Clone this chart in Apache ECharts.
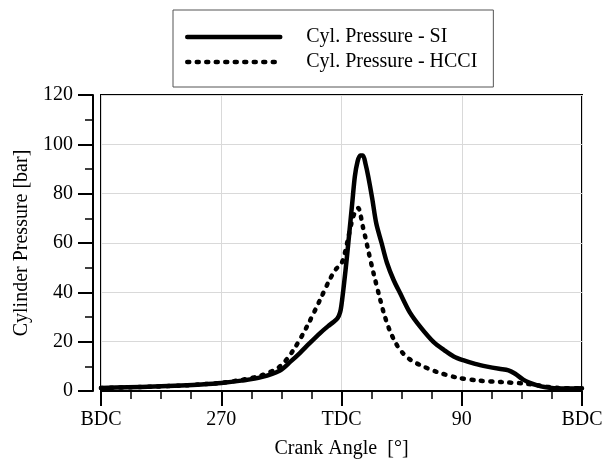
<!DOCTYPE html>
<html>
<head>
<meta charset="utf-8">
<script src="https://cdn.jsdelivr.net/npm/echarts@6/dist/echarts.min.js"></script>
<style>html,body{margin:0;padding:0;background:#fff}#c{width:605px;height:461px}</style>
</head>
<body>
<div id="c"></div>
<script>
// Crank angle (deg, 180 = BDC, 360 = TDC, 540 = BDC)
const siAngles = [180,200,220,240,255,270,285,300,314,322,329,336,344,350,354,357,359,360,362,364,366,368,370,372,374,376,378,380,383,386,390,394,399,404,411,419,429,437,444,451,460,469,478,485,490,496,501,506,512,519,530,540];
const siPressure = [1.2,1.5,1.8,2.2,2.6,3.2,4.2,5.6,8.3,12,15.5,19.3,23.5,26.3,28,29.5,32,35,44,54,65,76,87,93,95.5,95.5,92,87,78,68,60,52,45,39.5,32,26,19.8,16.5,14,12.5,11,9.9,9.0,8.4,7,4.6,3.3,2.4,1.6,1.1,1.0,1.1];
const hcciAngles = [180,200,220,240,255,270,285,300,314,324,334,344,351,356,359,361,363,365,367,369,371,372.6,374,376,378,380,384,389,392,396,401,406,412,419,431,446,463,480,495,506,515,525,540];
const hcciPressure = [1.2,1.5,1.8,2.2,2.7,3.3,4.5,6.3,10,16.6,26,37,45,49.5,51,53,57,62,67,71,73.5,74.2,72,66.6,62,57,47.7,37,31,24.7,19,15.3,12.5,10.5,7.8,5.5,4.2,3.6,3.1,2.4,1.6,1.2,1.1];
const xTickValues = [180,270,360,450,540];
const xTickLabels = ['BDC','270','TDC','90','BDC'];
const seriesNames = ['Cyl. Pressure - SI','Cyl. Pressure - HCCI'];

const FONT = 'Liberation Serif';
const chart = echarts.init(document.getElementById('c'), null, {renderer:'canvas'});
const pair = (xs, ys) => xs.map((x, i) => [x, ys[i]]);
chart.setOption({
  animation: false,
  backgroundColor: '#fff',
  textStyle: {fontFamily: FONT, color: '#000'},
  legend: {
    orient: 'vertical',
    left: 173, top: 10,
    padding: [17, 16, 15, 12],
    itemWidth: 93, itemHeight: 20, itemGap: 5,
    borderColor: '#555', borderWidth: 1,
    backgroundColor: '#fff',
    itemStyle: {color: 'rgba(0,0,0,0)', borderWidth: 0, opacity: 0},
    lineStyle: {width: 4.5, color: '#000', cap: 'round'},
    textStyle: {fontFamily: FONT, fontSize: 20, color: '#000', padding: [0,0,0,21], lineHeight: 20},
    data: seriesNames
  },
  grid: {
    left: 101, right: 23, top: 95, bottom: 70,
    outerBoundsMode: 'none', containLabel: false,
    show: true, borderColor: '#000', borderWidth: 2, backgroundColor: 'transparent'
  },
  xAxis: {
    type: 'value', min: 180, max: 540, interval: 90,
    name: 'Crank Angle  [°]', nameLocation: 'middle', nameGap: 48,
    nameTextStyle: {fontFamily: FONT, fontSize: 20, color: '#000', verticalAlign: 'top'},
    axisLine: {show: true, lineStyle: {color: '#000', width: 2}},
    axisTick: {show: true, inside: false, length: 15, lineStyle: {color: '#000', width: 2}},
    minorTick: {show: true, splitNumber: 4, length: 8, lineStyle: {color: '#000', width: 1.5}},
    axisLabel: {fontFamily: FONT, fontSize: 20, color: '#000', margin: 19,
      formatter: v => { const i = xTickValues.indexOf(v); return i >= 0 ? xTickLabels[i] : ''; }},
    splitLine: {show: true, lineStyle: {color: '#d9d9d9', width: 1}}
  },
  yAxis: {
    type: 'value', min: 0, max: 120, interval: 20, offset: 8,
    name: 'Cylinder Pressure [bar]', nameLocation: 'middle', nameGap: 60,
    nameTextStyle: {fontFamily: FONT, fontSize: 20, color: '#000'},
    axisLine: {show: true, lineStyle: {color: '#000', width: 2}},
    axisTick: {show: true, inside: false, length: 15, lineStyle: {color: '#000', width: 2}},
    minorTick: {show: true, splitNumber: 2, length: 8, lineStyle: {color: '#000', width: 1.5}},
    axisLabel: {fontFamily: FONT, fontSize: 20, color: '#000', margin: 20},
    splitLine: {show: true, lineStyle: {color: '#d9d9d9', width: 1}}
  },
  series: [
    {
      name: seriesNames[0], type: 'line', data: pair(siAngles, siPressure),
      showSymbol: false, symbol: 'none', smooth: 0.3,
      lineStyle: {color: '#000', width: 4.5, cap: 'round', join: 'round'},
      itemStyle: {color: '#000'}, z: 3
    },
    {
      name: seriesNames[1], type: 'line', data: pair(hcciAngles, hcciPressure),
      showSymbol: false, symbol: 'none', smooth: 0.3,
      lineStyle: {color: '#000', width: 4.5, type: [2, 7.5], cap: 'round', join: 'round'},
      itemStyle: {color: '#000'}, z: 2
    }
  ]
});
</script>
</body>
</html>
